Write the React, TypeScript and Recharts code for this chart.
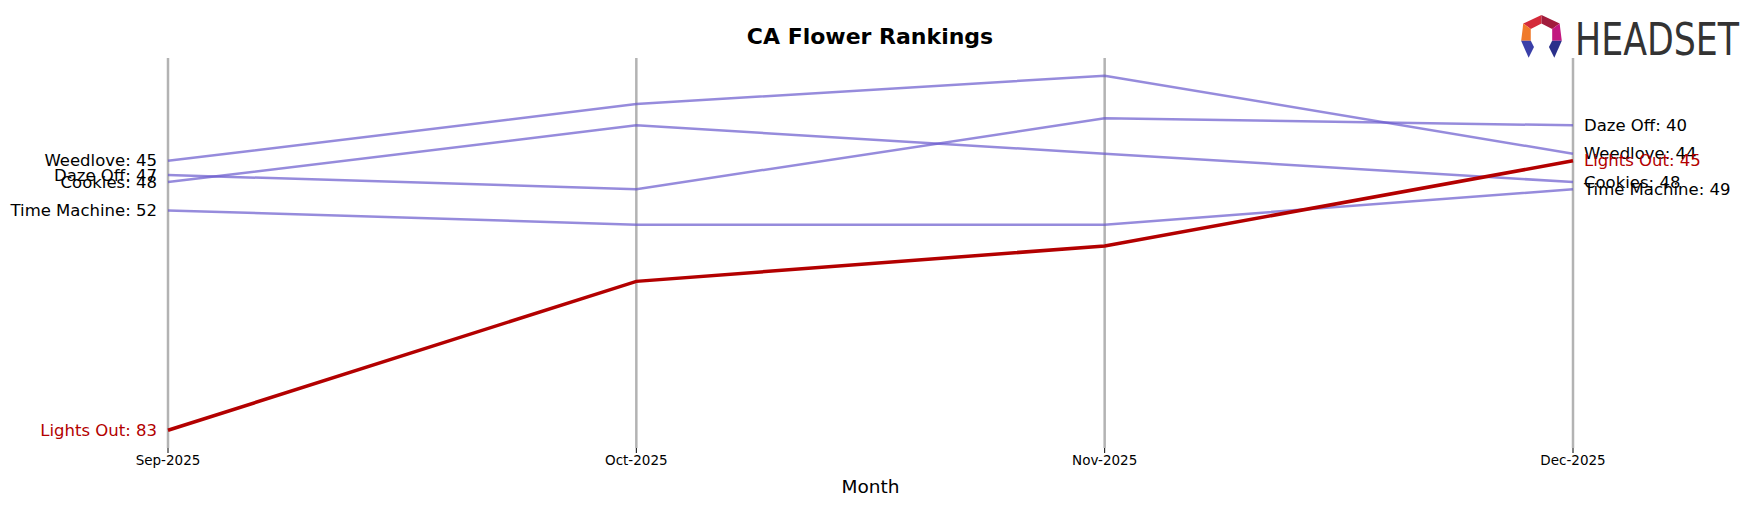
import React from "react";
import { CartesianGrid, LabelList, Line, LineChart, XAxis, YAxis } from "recharts";

const months = ["Sep-2025", "Oct-2025", "Nov-2025", "Dec-2025"];

// monthly rank per brand (lower = better)
const weedlove = [45, 37, 33, 44];
const dazeOff = [47, 49, 39, 40];
const cookies = [48, 40, 44, 48];
const timeMachine = [52, 54, 54, 49];
const lightsOut = [83, 62, 57, 45];

const brands = [
  { name: "Weedlove", ranks: weedlove },
  { name: "Daze Off", ranks: dazeOff },
  { name: "Cookies", ranks: cookies },
  { name: "Time Machine", ranks: timeMachine },
  { name: "Lights Out", ranks: lightsOut },
];

const HIGHLIGHT = "Lights Out";
const PURPLE = "#6A5ACD";
const RED = "#b30000";
const FONT = "'DejaVu Sans', sans-serif";

const rows = months.map((m, i) => {
  const row: Record<string, number | string> = { idx: i, month: m };
  brands.forEach((b) => {
    row[b.name] = b.ranks[i];
  });
  return row;
});

const W = 1756;
const H = 507;

function edgeLabel(name: string, color: string) {
  return (props: any) => {
    const { x, y, value, index } = props;
    if (index !== 0 && index !== months.length - 1) return null;
    const left = index === 0;
    return (
      <text
        x={left ? x - 11 : x + 11}
        y={y}
        textAnchor={left ? "end" : "start"}
        dominantBaseline="central"
        fill={color}
        fontSize={16.5}
        fontFamily={FONT}
      >
        {`${name}: ${value}`}
      </text>
    );
  };
}

function Logo() {
  return (
    <svg width={240} height={64} style={{ position: "absolute", left: 1508, top: 4 }}>
      <g transform="translate(11,11) scale(1.07)">
        <polygon points="21,0 21,8 11,13 4,8" fill="#d42a3a" />
        <polygon points="21,0 38,8 31,13 21,8" fill="#a11c3c" />
        <polygon points="4,8 11,13 11,24 2,24" fill="#f07a2a" />
        <polygon points="38,8 40,24 31,24 31,13" fill="#c2187f" />
        <polygon points="2,24 11,24 14,30 9,40" fill="#3a3fa8" />
        <polygon points="40,24 31,24 28,30 33,40" fill="#2a2f8a" />
      </g>
      <text
        x={67}
        y={51}
        fontSize={45}
        fill="#333333"
        textLength={164}
        lengthAdjust="spacingAndGlyphs"
        fontFamily="'Liberation Sans Narrow', 'DejaVu Sans Condensed', sans-serif"
      >
        HEADSET
      </text>
    </svg>
  );
}

export default function App() {
  const ordered = [...brands.filter((b) => b.name !== HIGHLIGHT), ...brands.filter((b) => b.name === HIGHLIGHT)];
  return (
    <div style={{ position: "absolute", left: 0, top: 0, width: W, height: H, background: "#fff", fontFamily: FONT }}>
      <div
        style={{
          position: "absolute",
          left: 0,
          width: 1740,
          top: 23,
          textAlign: "center",
          fontWeight: "bold",
          fontSize: 22,
          lineHeight: "28px",
          color: "#000",
        }}
      >
        CA Flower Rankings
      </div>
      <div
        style={{
          position: "absolute",
          left: 0,
          width: 1741,
          top: 475,
          textAlign: "center",
          fontSize: 18.5,
          lineHeight: "24px",
          color: "#000",
        }}
      >
        Month
      </div>
      <LineChart width={W} height={H} data={rows} margin={{ top: 58, right: 183, left: 168, bottom: 29 }}>
        <CartesianGrid horizontal={false} stroke="#b3b3b3" strokeWidth={2.5} />
        <XAxis
          dataKey="idx"
          type="number"
          domain={[0, 3]}
          ticks={[0, 1, 2, 3]}
          tickFormatter={(v) => months[v]}
          axisLine={false}
          tickLine={{ stroke: "#000", strokeWidth: 1 }}
          tickSize={5}
          height={30}
          tick={{ fill: "#000", fontSize: 13.5, fontFamily: FONT }}
        />
        <YAxis hide width={0} reversed domain={[30.5, 85.5]} type="number" />
        {ordered.map((b) => {
          const hi = b.name === HIGHLIGHT;
          const color = hi ? RED : PURPLE;
          return (
            <Line
              key={b.name}
              dataKey={b.name}
              stroke={color}
              strokeOpacity={hi ? 1 : 0.7}
              strokeWidth={hi ? 3.5 : 2.5}
              dot={false}
              activeDot={false}
              isAnimationActive={false}
            >
              <LabelList dataKey={b.name} content={edgeLabel(b.name, hi ? RED : "#000")} />
            </Line>
          );
        })}
      </LineChart>
      <Logo />
    </div>
  );
}
